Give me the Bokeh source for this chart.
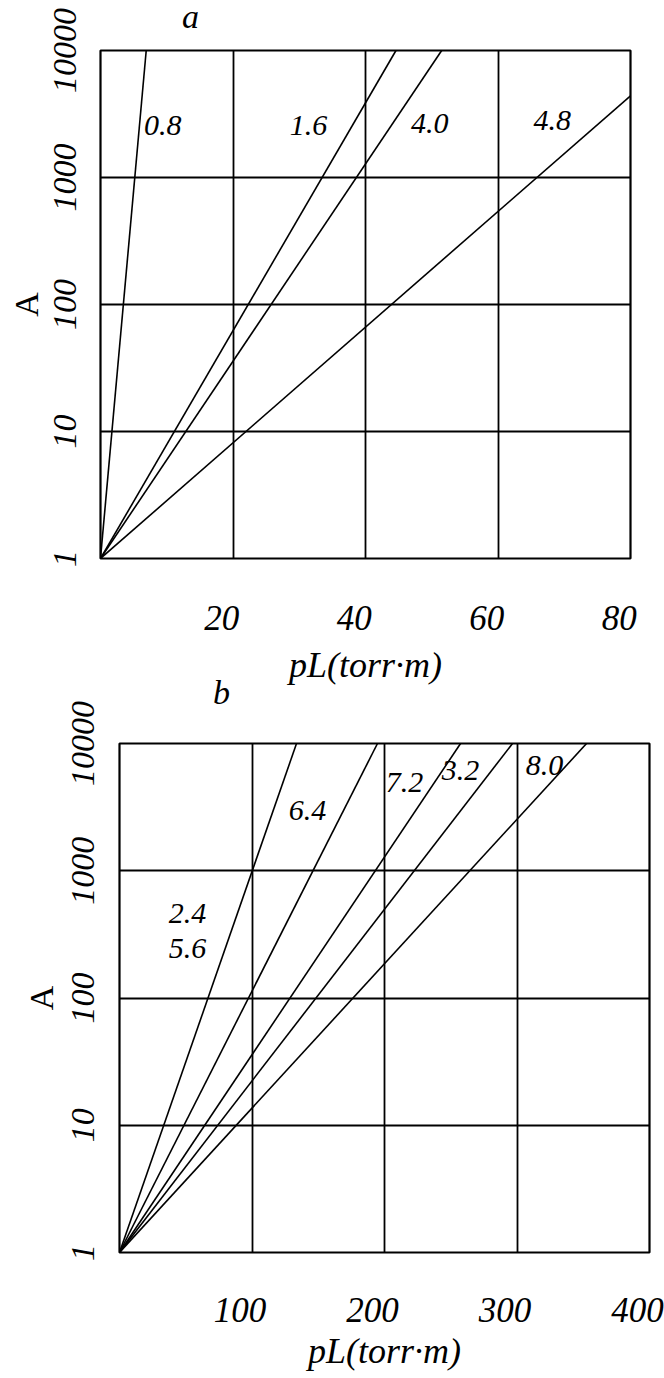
import math
from bokeh.plotting import figure
from bokeh.models import (LinearAxis, Range1d, FixedTicker, PrintfTickFormatter,
                          ColumnDataSource, Div)
from bokeh.core.properties import value
from bokeh.embed import file_html
from bokeh.resources import INLINE

# ---------------- data ----------------
# panel a : straight lines on log axis starting at (0, 1)
a_params = ["0.8", "1.6", "4.0", "4.8"]
a_end_pl = [6.9, 44.6, 51.5, 80.0]
a_end_A = [10000, 10000, 10000, 4400]
a_label_pl = [9.4, 31.4, 49.7, 68.2]
a_label_A = [2570, 2570, 2660, 2815]
a_xticks = [20, 40, 60, 80]

# panel b
b_line_names = ["2.4 / 5.6", "6.4", "7.2", "3.2", "8.0"]
b_end_pl = [133.6, 194.7, 257.4, 296.6, 352.5]
b_end_A = [10000, 10000, 10000, 10000, 10000]
b_labels = ["2.4", "5.6", "6.4", "7.2", "3.2", "8.0"]
b_label_pl = [51.3, 51.3, 141.9, 215.0, 257.4, 320.8]
b_label_A = [461, 245, 2970, 4935, 6135, 6715]
b_xticks = [100, 200, 300, 400]

y_ticks = [1, 10, 100, 1000, 10000]
y_grid = [10, 100, 1000]

SERIF = "Liberation Serif"


def make_panel(x_max, x_ticks, label_shift, ends_x, ends_y, lab_x, lab_y, lab_text,
               width, height, b_left, b_right, b_top, b_bottom, tick_standoff,
               xlabel_standoff, ylabel_standoff, ytick_standoff):
    p = figure(width=width, height=height,
               x_range=Range1d(0, x_max), y_range=Range1d(1, 10000),
               y_axis_type="log", x_axis_location=None,
               toolbar_location=None, output_backend="svg",
               min_border_left=b_left, min_border_right=b_right,
               min_border_top=b_top, min_border_bottom=b_bottom)
    p.background_fill_color = "white"
    p.border_fill_color = "white"
    p.outline_line_color = "black"
    p.outline_line_width = 2.2

    # grids
    p.ygrid.ticker = FixedTicker(ticks=y_grid)
    p.ygrid.grid_line_color = "black"
    p.ygrid.grid_line_width = 1.8
    p.xgrid.ticker = FixedTicker(ticks=[t for t in x_ticks if t < x_max])
    p.xgrid.grid_line_color = "black"
    p.xgrid.grid_line_width = 1.8

    # y axis
    ya = p.yaxis[0]
    ya.ticker = FixedTicker(ticks=y_ticks)
    ya.formatter = PrintfTickFormatter(format="%d")
    ya.major_label_orientation = "vertical"
    ya.major_tick_line_color = None
    ya.minor_tick_line_color = None
    ya.axis_line_color = None
    ya.major_label_standoff = ytick_standoff
    ya.major_label_text_font = SERIF
    ya.major_label_text_font_style = "italic"
    ya.major_label_text_font_size = "34px"
    ya.major_label_text_color = "black"
    ya.axis_label = "A"
    ya.axis_label_standoff = ylabel_standoff
    ya.axis_label_text_font = SERIF
    ya.axis_label_text_font_style = "normal"
    ya.axis_label_text_font_size = "34px"
    ya.axis_label_text_color = "black"

    # x axis (labels sit slightly left of their grid lines, as in the original)
    p.extra_x_ranges = {"lab": Range1d(label_shift, x_max + label_shift)}
    xa = LinearAxis(x_range_name="lab", ticker=FixedTicker(ticks=x_ticks))
    xa.major_tick_line_color = None
    xa.minor_tick_line_color = None
    xa.axis_line_color = None
    xa.major_label_standoff = tick_standoff
    xa.major_label_text_font = SERIF
    xa.major_label_text_font_style = "italic"
    xa.major_label_text_font_size = "35px"
    xa.major_label_text_color = "black"
    xa.axis_label = "pL(torr\u00b7m)"
    xa.axis_label_standoff = xlabel_standoff
    xa.axis_label_text_font = SERIF
    xa.axis_label_text_font_style = "italic"
    xa.axis_label_text_font_size = "36px"
    xa.axis_label_text_color = "black"
    p.add_layout(xa, "below")

    # curves
    for ex, ey in zip(ends_x, ends_y):
        p.line([0, ex], [1, ey], line_color="black", line_width=1.6)

    src = ColumnDataSource(dict(x=lab_x, y=lab_y, t=lab_text))
    p.text(x="x", y="y", text="t", source=src, text_font=value(SERIF),
           text_font_style="italic", text_font_size="30px",
           text_align="center", text_baseline="middle", text_color="black")
    return p


def panel_title(letter, left, top):
    font_css = (f"font-family:'{SERIF}';font-style:italic;font-size:34px;"
                "line-height:1;color:black;margin:0;padding:0")
    return Div(text=f'<span style="{font_css}">{letter}</span>',
               styles={"position": "absolute", "left": f"{left}px", "top": f"{top}px",
                       "z-index": "10", "overflow": "visible",
                       "font-family": SERIF, "font-style": "italic",
                       "font-size": "34px", "line-height": "1", "color": "black",
                       "margin": "0", "padding": "0"})


pa = make_panel(80, a_xticks, 1.7, a_end_pl, a_end_A, a_label_pl, a_label_A, a_params,
                width=664, height=691, b_left=100, b_right=34, b_top=50, b_bottom=133,
                tick_standoff=41, xlabel_standoff=12, ylabel_standoff=6, ytick_standoff=19)

pb = make_panel(400, b_xticks, 9.0, b_end_pl, b_end_A, b_label_pl, b_label_A, b_labels,
                width=664, height=687, b_left=119, b_right=15, b_top=52, b_bottom=126,
                tick_standoff=39, xlabel_standoff=6, ylabel_standoff=9, ytick_standoff=20)

ta = panel_title("a", 182, 0)
tb = panel_title("b", 213, 676)

open("out.html", "w").write(file_html([pa, pb, ta, tb], INLINE))
